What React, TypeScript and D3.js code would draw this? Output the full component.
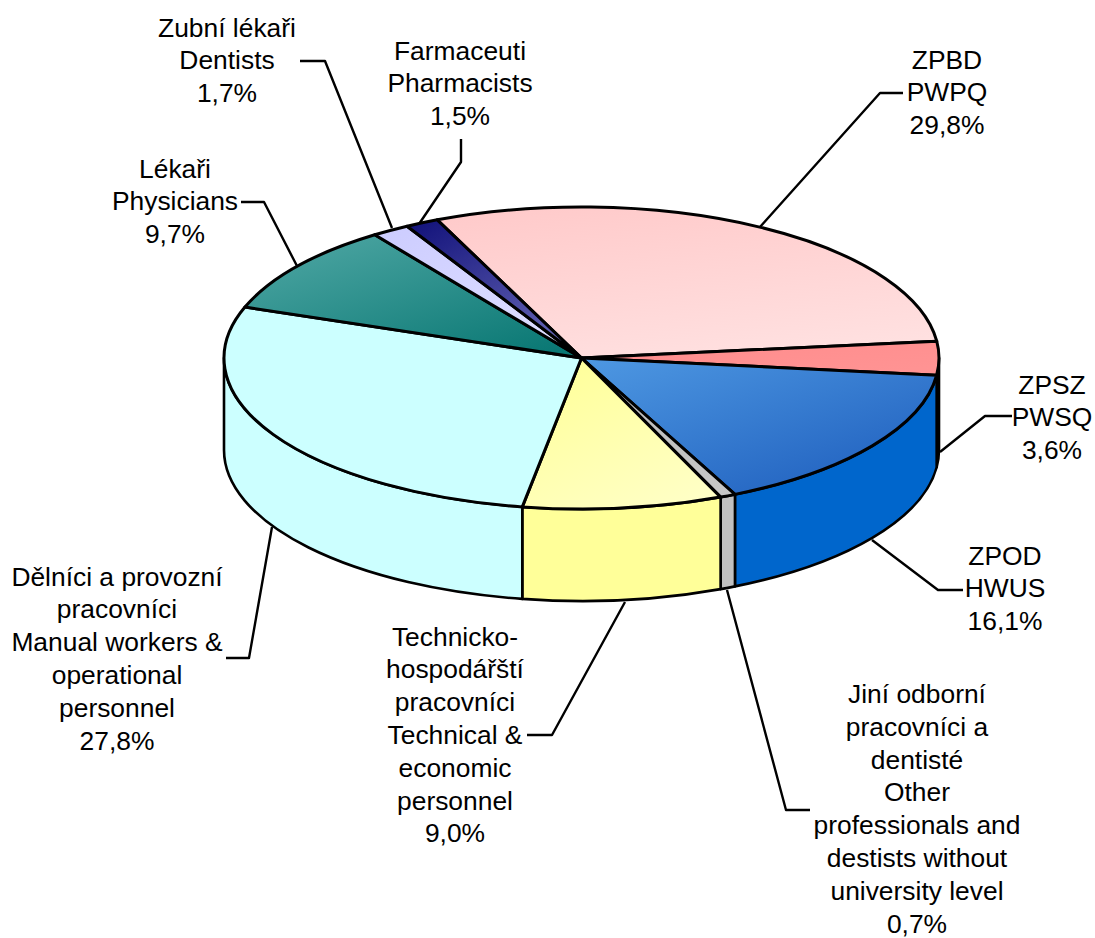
import React from "react";
import * as d3 from "d3";

const WIDTH = 1095;
const HEIGHT = 938;

// Data
const sliceNames = ["ZPBD", "ZPSZ", "ZPOD", "Jiní", "THP", "Dělníci", "Lékaři", "Zubní", "Farmaceuti"];
const sliceValues = [29.8, 3.6, 16.1, 0.7, 9.0, 27.8, 9.7, 1.7, 1.5];
const labelTexts = [
  ["ZPBD", "PWPQ", "29,8%"],
  ["ZPSZ", "PWSQ", "3,6%"],
  ["ZPOD", "HWUS", "16,1%"],
  ["Jiní odborní", "pracovníci a", "dentisté", "Other", "professionals and", "destists without", "university level", "0,7%"],
  ["Technicko-", "hospodářští", "pracovníci", "Technical &", "economic", "personnel", "9,0%"],
  ["Dělníci a provozní", "pracovníci", "Manual workers &", "operational", "personnel", "27,8%"],
  ["Lékaři", "Physicians", "9,7%"],
  ["Zubní lékaři", "Dentists", "1,7%"],
  ["Farmaceuti", "Pharmacists", "1,5%"],
];

// Styles and layout (separate from the data)
const topStart = ["#FFCBCB", "#FF8C8C", "#4E98E2", "#B8B8B8", "#FFFF99", "#CCFFFF", "#52A9A6", "#CCCCFF", "#14147C"];
const topEnd = ["#FFE0E0", "#FF9494", "#1F5FBE", "#C8C8C8", "#FFFFC6", "#CCFFFF", "#0A7874", "#E0E0FF", "#6A6AB8"];
const gradDir = [
  [0.25, 0, 0.6, 1],
  [0, 0, 1, 1],
  [0, 0, 0.85, 1],
  [0, 0, 1, 1],
  [0.2, 0, 0.8, 1],
  [0, 0, 1, 1],
  [0, 0, 0.85, 1],
  [0, 0, 1, 1],
  [0.1, 0, 0.85, 1],
];
const sideColors = ["#FF8C8C", "#111111", "#0066CC", "#C0C0C0", "#FFFF99", "#CCFFFF", "#0A7874", "#CCCCFF", "#14147C"];
const labelCx = [947, 1052, 1005, 917, 455, 117, 175, 227, 460];
const labelFirstBaseline = [68.5, 393.5, 564.5, 703, 645.5, 585.5, 177.5, 36.5, 59.5];
const leaders: [number, number][][] = [
  [[903, 93], [880, 93], [760, 227]],
  [[1012, 416], [985, 416], [940, 452]],
  [[963, 590], [938, 590], [872, 540]],
  [[810, 810], [786, 810], [727, 590]],
  [[527, 735], [552, 735], [625, 602]],
  [[226, 658], [249, 658], [272, 527]],
  [[241, 202], [264, 202], [297, 266]],
  [[300, 61], [325, 61], [392, 228]],
  [[461, 139], [461, 162], [419, 224]],
];

const cx = 581.5;
const cy = 358;
const rx = 357.5;
const ry = 151;
const depth = 92;
const startDeg = -23.8;

const slices = d3
  .pie<number>()
  .sort(null)
  .startAngle((startDeg * Math.PI) / 180)
  .endAngle(((startDeg + 360) * Math.PI) / 180)(sliceValues);

const px = (t: number) => cx + rx * Math.sin(t);
const py = (t: number) => cy - ry * Math.cos(t);

function topPath(a0: number, a1: number) {
  const large = a1 - a0 > Math.PI ? 1 : 0;
  return `M${cx},${cy}L${px(a0)},${py(a0)}A${rx},${ry} 0 ${large} 1 ${px(a1)},${py(a1)}Z`;
}

function sidePath(a0: number, a1: number) {
  const lo = Math.max(a0, Math.PI / 2);
  const hi = Math.min(a1, (3 * Math.PI) / 2);
  if (hi <= lo) return null;
  return (
    `M${px(lo)},${py(lo)}A${rx},${ry} 0 0 1 ${px(hi)},${py(hi)}` +
    `L${px(hi)},${py(hi) + depth}A${rx},${ry} 0 0 0 ${px(lo)},${py(lo) + depth}Z`
  );
}

const line = d3.line();
const FONT = 26.4;
const LINE_H = 32.8;

export default function App() {
  return (
    <svg
      width={WIDTH}
      height={HEIGHT}
      viewBox={`0 0 ${WIDTH} ${HEIGHT}`}
      style={{ position: "absolute", left: 0, top: 0, background: "#fff" }}
      fontFamily="'Liberation Sans', Arial, sans-serif"
    >
      <defs>
        {slices.map((s, i) => (
          <linearGradient
            key={i}
            id={`g${i}`}
            x1={gradDir[i][0]}
            y1={gradDir[i][1]}
            x2={gradDir[i][2]}
            y2={gradDir[i][3]}
          >
            <stop offset="0" stopColor={topStart[i]} />
            <stop offset="1" stopColor={topEnd[i]} />
          </linearGradient>
        ))}
      </defs>
      <g fill="none" stroke="#000" strokeWidth={2.4} strokeLinejoin="round">
        {leaders.map((pts, i) => (
          <path key={i} d={line(pts) ?? ""} />
        ))}
      </g>
      <g stroke="#000" strokeWidth={2.6} strokeLinejoin="round">
        {slices.map((s, i) => {
          const d = sidePath(s.startAngle, s.endAngle);
          return d ? <path key={i} d={d} fill={sideColors[i]} /> : null;
        })}
      </g>
      <g stroke="#000" strokeWidth={3} strokeLinejoin="round">
        {slices.map((s, i) => (
          <path key={sliceNames[i]} d={topPath(s.startAngle, s.endAngle)} fill={`url(#g${i})`} />
        ))}
      </g>
      <g fontSize={FONT} textAnchor="middle" fill="#000">
        {labelTexts.map((lines, i) => (
          <text key={i}>
            {lines.map((l, j) => (
              <tspan key={j} x={labelCx[i]} y={labelFirstBaseline[i] + j * LINE_H}>
                {l}
              </tspan>
            ))}
          </text>
        ))}
      </g>
    </svg>
  );
}
